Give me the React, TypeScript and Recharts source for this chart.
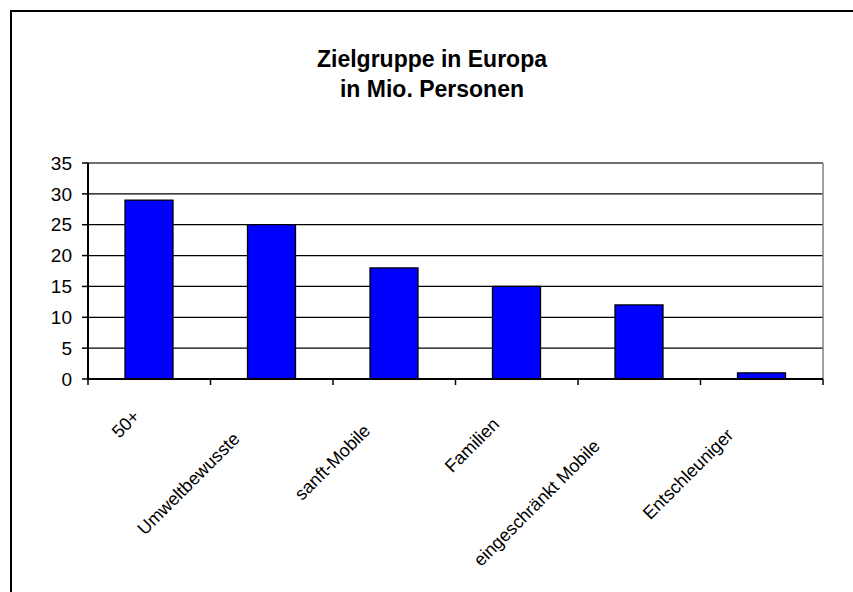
import { BarChart, Bar, XAxis, YAxis, CartesianGrid, ReferenceLine } from 'recharts';

const categories = ['50+', 'Umweltbewusste', 'sanft-Mobile', 'Familien', 'eingeschränkt Mobile', 'Entschleuniger'];
const values = [29, 25, 18, 15, 12, 1];
const yTicks = [0, 5, 10, 15, 20, 25, 30, 35];

const titleLines = ['Zielgruppe in Europa', 'in Mio. Personen'];

const FONT = '"Liberation Sans", Arial, sans-serif';

const CHART_W = 853;
const CHART_H = 592;
const MARGIN = { top: 163, right: 30, left: 28, bottom: 3 };
const Y_AXIS_W = 60;
const BAND = (CHART_W - MARGIN.left - MARGIN.right - Y_AXIS_W) / categories.length;

const data = categories.map((name, i) => ({ name, value: values[i] }));

interface TickProps {
  x?: number;
  y?: number;
  index?: number;
  payload?: { value: string };
}

// rotated category label plus the tick marks between categories
function CategoryTick({ x = 0, y = 0, index = 0, payload }: TickProps) {
  const left = x - BAND / 2;
  const right = x + BAND / 2;
  return (
    <g>
      <line x1={left} x2={left} y1={y} y2={y + 6} stroke="#000" strokeWidth={1.5} />
      {index === categories.length - 1 && (
        <line x1={right} x2={right} y1={y} y2={y + 6} stroke="#000" strokeWidth={1.5} />
      )}
      <g transform={`translate(${x - 2},${y + 32}) rotate(-45)`}>
        <text
          textAnchor="end"
          fontSize={18}
          fontFamily={FONT}
          fill="#000"
          style={{ transformBox: 'fill-box', transform: 'translateX(-30%)' }}
        >
          {payload?.value}
        </text>
      </g>
    </g>
  );
}

export default function App() {
  return (
    <div style={{ position: 'fixed', inset: 0, overflow: 'hidden', background: '#fff' }}>
      <div
        style={{
          position: 'absolute',
          left: 10,
          top: 10,
          width: 900,
          height: 700,
          border: '2px solid #000',
        }}
      />
      <div
        style={{
          position: 'absolute',
          left: 0,
          top: 44,
          width: 864,
          textAlign: 'center',
          fontFamily: FONT,
          fontWeight: 'bold',
          fontSize: 23,
          lineHeight: '30px',
          color: '#000',
        }}
      >
        {titleLines.map((t) => (
          <div key={t}>{t}</div>
        ))}
      </div>
      <div style={{ position: 'absolute', left: 0, top: 0 }}>
        <BarChart width={CHART_W} height={CHART_H} data={data} margin={MARGIN}>
          <CartesianGrid vertical={false} stroke="#000" strokeWidth={1.3} />
          <CartesianGrid
            horizontal={false}
            stroke="#808080"
            strokeWidth={1.5}
            verticalCoordinatesGenerator={({ offset }: any) => [offset.left + offset.width]}
          />
          <XAxis
            dataKey="name"
            interval={0}
            axisLine={{ stroke: '#000', strokeWidth: 2 }}
            tickLine={false}
            tickSize={0}
            tickMargin={0}
            height={210}
            tick={(p: TickProps) => <CategoryTick {...p} />}
          />
          <YAxis
            domain={[0, 35]}
            ticks={yTicks}
            interval={0}
            width={Y_AXIS_W}
            tickSize={6}
            tickMargin={10}
            tick={{ fill: '#000', fontSize: 19, fontFamily: FONT }}
            tickLine={{ stroke: '#000', strokeWidth: 1.5 }}
            axisLine={{ stroke: '#000', strokeWidth: 2 }}
          />
          <ReferenceLine y={35} stroke="#808080" strokeWidth={1.5} />
          <Bar
            dataKey="value"
            fill="#0000FF"
            stroke="#000"
            strokeWidth={1.3}
            barSize={48}
            isAnimationActive={false}
          />
        </BarChart>
      </div>
    </div>
  );
}
